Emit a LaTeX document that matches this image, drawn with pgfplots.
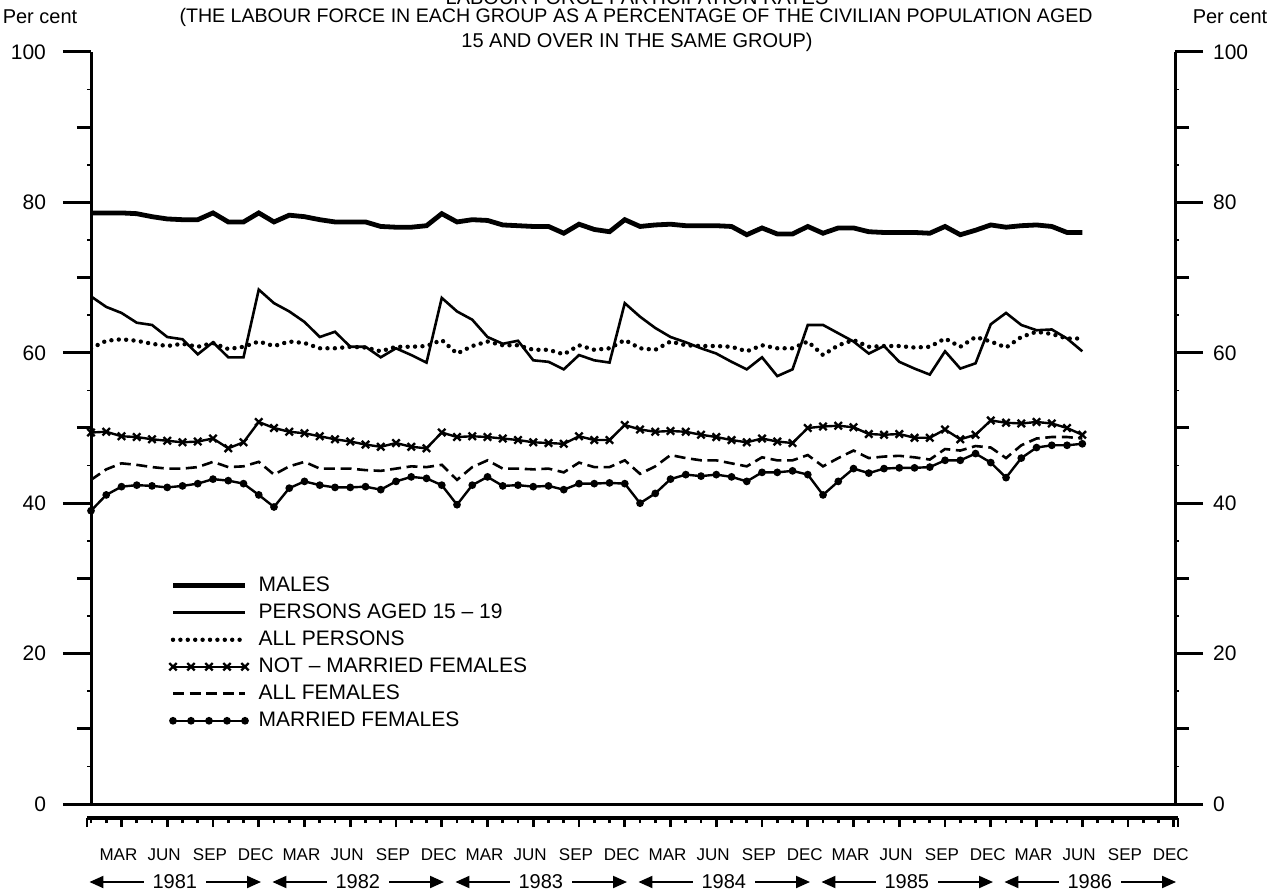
\documentclass[border=0pt]{standalone}
\usepackage{pgfplots}
\pgfplotsset{compat=1.18}
\usepackage{pgfplotstable}
\usepackage{fontspec}
\setmainfont{Liberation Sans}
\usetikzlibrary{arrows.meta}

\newcommand\ttlfont{\fontsize{10}{12}\selectfont}
\newcommand\numfont{\fontsize{10.5}{12}\selectfont}
\newcommand\legfont{\fontsize{10.5}{12}\selectfont}
\newcommand\monfont{\fontsize{8.5}{10}\selectfont}
\newcommand\yrfont{\fontsize{10}{12}\selectfont}

\pgfplotstableread{
m males teen allp notmar allfem mar
0 78.6 67.5 60.6 49.4 43.1 39.0
1 78.6 66.1 61.6 49.5 44.5 41.1
2 78.6 65.3 61.8 48.9 45.3 42.2
3 78.5 64.0 61.6 48.8 45.1 42.4
4 78.1 63.7 61.2 48.5 44.8 42.3
5 77.8 62.1 60.9 48.3 44.6 42.1
6 77.7 61.8 61.2 48.1 44.6 42.3
7 77.7 59.8 60.8 48.2 44.8 42.6
8 78.6 61.4 61.3 48.6 45.5 43.2
9 77.4 59.4 60.5 47.3 44.8 43.0
10 77.4 59.4 60.8 48.1 44.9 42.6
11 78.6 68.4 61.5 50.8 45.5 41.1
12 77.4 66.6 60.9 50.0 43.8 39.5
13 78.3 65.5 61.5 49.5 44.9 42.0
14 78.1 64.1 61.3 49.3 45.5 42.9
15 77.7 62.1 60.6 48.9 44.6 42.4
16 77.4 62.8 60.6 48.5 44.6 42.1
17 77.4 60.8 60.8 48.2 44.6 42.1
18 77.4 60.8 60.7 47.8 44.4 42.2
19 76.8 59.4 60.2 47.5 44.3 41.8
20 76.7 60.6 60.8 48.0 44.6 42.9
21 76.7 59.7 60.8 47.5 44.9 43.5
22 76.9 58.7 60.9 47.3 44.8 43.3
23 78.5 67.3 61.7 49.4 45.1 42.4
24 77.4 65.5 59.9 48.8 43.1 39.8
25 77.7 64.4 60.9 48.9 44.8 42.4
26 77.6 62.1 61.5 48.8 45.7 43.5
27 77.0 61.2 61.0 48.6 44.6 42.3
28 76.9 61.6 61.0 48.4 44.6 42.4
29 76.8 59.0 60.4 48.1 44.5 42.2
30 76.8 58.8 60.4 48.0 44.6 42.3
31 75.9 57.8 59.8 47.9 44.1 41.8
32 77.1 59.7 61.0 48.9 45.4 42.6
33 76.4 59.0 60.4 48.4 44.8 42.6
34 76.1 58.7 60.6 48.4 44.8 42.7
35 77.7 66.6 61.7 50.4 45.7 42.6
36 76.8 64.8 60.6 49.8 43.9 40.0
37 77.0 63.3 60.4 49.5 44.9 41.3
38 77.1 62.1 61.5 49.6 46.4 43.2
39 76.9 61.4 61.0 49.5 46.0 43.8
40 76.9 60.6 60.9 49.1 45.7 43.6
41 76.9 59.9 60.9 48.8 45.7 43.8
42 76.8 58.8 60.8 48.4 45.3 43.5
43 75.7 57.8 60.2 48.1 44.9 42.9
44 76.6 59.4 61.0 48.6 46.1 44.1
45 75.8 56.9 60.6 48.2 45.7 44.1
46 75.8 57.8 60.6 48.0 45.7 44.3
47 76.8 63.7 61.5 50.0 46.4 43.8
48 75.9 63.7 59.7 50.2 44.9 41.1
49 76.6 62.6 61.0 50.3 46.0 42.9
50 76.6 61.5 61.7 50.1 47.0 44.6
51 76.1 59.9 60.8 49.2 46.0 44.0
52 76.0 60.9 60.9 49.1 46.2 44.6
53 76.0 58.8 60.9 49.2 46.3 44.7
54 76.0 57.9 60.7 48.7 46.1 44.7
55 75.9 57.1 60.8 48.7 45.8 44.8
56 76.8 60.2 61.9 49.8 47.2 45.7
57 75.7 57.9 60.8 48.5 47.0 45.7
58 76.3 58.6 62.1 49.1 47.6 46.6
59 77.0 63.8 61.5 51.0 47.4 45.4
60 76.7 65.3 60.7 50.7 46.0 43.4
61 76.9 63.7 62.1 50.6 47.7 46.0
62 77.0 63.0 62.8 50.8 48.6 47.4
63 76.8 63.1 62.5 50.6 48.8 47.7
64 76.0 61.9 61.9 50.0 48.8 47.7
65 76.0 60.2 61.9 49.1 48.6 47.9
}\data

\begin{document}
\begin{tikzpicture}[x=1pt,y=1pt]
\useasboundingbox (0,0) rectangle (634,447.5);

% titles
\node[font=\ttlfont] at (318.5,448.5) {LABOUR FORCE PARTICIPATION RATES};
\node[font=\fontsize{9.8}{12}\selectfont] at (318,439) {(THE LABOUR FORCE IN EACH GROUP AS A PERCENTAGE OF THE CIVILIAN POPULATION AGED};
\node[font=\ttlfont] at (318.5,426.5) {15 AND OVER IN THE SAME GROUP)};
\node[font=\ttlfont] at (20,439) {Per cent};
\node[font=\ttlfont] at (615,439) {Per cent};

% main axis with data, left y axis
\begin{axis}[
  at={(45.5pt,45.5pt)}, anchor=south west,
  scale only axis, width=542pt, height=376pt,
  xmin=0, xmax=71.08, ymin=0, ymax=100,
  axis x line*=bottom, axis y line*=left,
  axis line style={line width=1.5pt},
  xtick=\empty,
  ytick={0,20,40,60,80,100}, yticklabels={0,20,40,60,80,100},
  extra y ticks={10,30,50,70,90}, extra y tick labels={},
  extra y tick style={major tick length=7pt},
  minor ytick={5,15,...,95},
  tick align=outside,
  major tick length=14pt, minor tick length=2pt,
  tick style={line width=1.5pt, black},
  minor tick style={line width=0.8pt},
  yticklabel style={font=\numfont, xshift=-5pt},
  legend style={at={(axis cs:5.11,30.8)}, anchor=north west, draw=none, fill=none,
    font=\legfont, inner sep=0pt, row sep=0.5pt,
    nodes={inner sep=1.5pt, text height=8pt, text depth=2pt}},
  legend cell align=left,
  /tikz/every odd column/.append style={column sep=3.5pt},
  legend image code/.code={\draw[mark repeat=1,#1] plot coordinates {(0pt,0pt) (9pt,0pt) (18pt,0pt) (27pt,0pt) (36pt,0pt)};},
]
\addplot[line width=2.4pt, black] table[x=m,y=males]{\data};
\addlegendentry{MALES}
\addplot[line width=1.3pt, black] table[x=m,y=teen]{\data};
\addlegendentry{PERSONS AGED 15 -- 19}
\addplot[line width=2.2pt, black, line cap=round, dash pattern=on 0pt off 3.7pt] table[x=m,y=allp]{\data};
\addlegendentry{ALL PERSONS}
\addplot[line width=1.2pt, black, mark=x, mark size=2.6pt, mark options={line width=1.2pt, solid}] table[x=m,y=notmar]{\data};
\addlegendentry{NOT -- MARRIED FEMALES}
\addplot[line width=1.3pt, black, dash pattern=on 5.5pt off 2.8pt] table[x=m,y=allfem]{\data};
\addlegendentry{ALL FEMALES}
\addplot[line width=1.2pt, black, mark=*, mark size=1.3pt] table[x=m,y=mar]{\data};
\addlegendentry{MARRIED FEMALES}
\end{axis}

% right y axis
\begin{axis}[
  at={(45.5pt,45.5pt)}, anchor=south west,
  scale only axis, width=542pt, height=376pt,
  xmin=0, xmax=71.08, ymin=0, ymax=100,
  axis x line=none, axis y line*=right,
  axis line style={line width=1.5pt},
  ytick={0,20,40,60,80,100}, yticklabels={0,20,40,60,80,100},
  extra y ticks={10,30,50,70,90}, extra y tick labels={},
  extra y tick style={major tick length=7pt},
  minor ytick={5,15,...,95},
  tick align=outside,
  major tick length=14pt, minor tick length=2pt,
  tick style={line width=1.5pt, black},
  minor tick style={line width=0.8pt},
  yticklabel style={font=\numfont, xshift=1.5pt},
]
\end{axis}

% time axis below
\begin{axis}[
  at={(43.5pt,38.5pt)}, anchor=south west,
  scale only axis, width=545.5pt, height=1pt,
  xmin=-0.26, xmax=71.28, ymin=0, ymax=1,
  axis x line*=bottom, axis y line=none,
  axis line style={line width=1.6pt},
  tick align=outside,
  xtick={2,5,...,71},
  xticklabels={MAR,JUN,SEP,DEC,MAR,JUN,SEP,DEC,MAR,JUN,SEP,DEC,MAR,JUN,SEP,DEC,MAR,JUN,SEP,DEC,MAR,JUN,SEP,DEC},
  minor xtick={0,1,...,71},
  extra x ticks={-0.26,71.28}, extra x tick labels={},
  major tick length=4.5pt, minor tick length=2.5pt,
  tick style={line width=1.3pt, black},
  xticklabel style={font=\monfont, yshift=-7.5pt, xshift=-1.5pt},
  clip=false,
]
\node[font=\yrfont] at ([yshift=-32pt]axis cs:5.5,0) {1981};
\draw[-{Triangle[length=7pt,width=6pt]}, line width=1pt] ([yshift=-32pt]axis cs:3.45,0) -- ([yshift=-32pt]axis cs:-0.1,0);
\draw[-{Triangle[length=7pt,width=6pt]}, line width=1pt] ([yshift=-32pt]axis cs:7.55,0) -- ([yshift=-32pt]axis cs:11.15,0);
\node[font=\yrfont] at ([yshift=-32pt]axis cs:17.5,0) {1982};
\draw[-{Triangle[length=7pt,width=6pt]}, line width=1pt] ([yshift=-32pt]axis cs:15.45,0) -- ([yshift=-32pt]axis cs:11.9,0);
\draw[-{Triangle[length=7pt,width=6pt]}, line width=1pt] ([yshift=-32pt]axis cs:19.55,0) -- ([yshift=-32pt]axis cs:23.15,0);
\node[font=\yrfont] at ([yshift=-32pt]axis cs:29.5,0) {1983};
\draw[-{Triangle[length=7pt,width=6pt]}, line width=1pt] ([yshift=-32pt]axis cs:27.45,0) -- ([yshift=-32pt]axis cs:23.9,0);
\draw[-{Triangle[length=7pt,width=6pt]}, line width=1pt] ([yshift=-32pt]axis cs:31.55,0) -- ([yshift=-32pt]axis cs:35.15,0);
\node[font=\yrfont] at ([yshift=-32pt]axis cs:41.5,0) {1984};
\draw[-{Triangle[length=7pt,width=6pt]}, line width=1pt] ([yshift=-32pt]axis cs:39.45,0) -- ([yshift=-32pt]axis cs:35.9,0);
\draw[-{Triangle[length=7pt,width=6pt]}, line width=1pt] ([yshift=-32pt]axis cs:43.55,0) -- ([yshift=-32pt]axis cs:47.15,0);
\node[font=\yrfont] at ([yshift=-32pt]axis cs:53.5,0) {1985};
\draw[-{Triangle[length=7pt,width=6pt]}, line width=1pt] ([yshift=-32pt]axis cs:51.45,0) -- ([yshift=-32pt]axis cs:47.9,0);
\draw[-{Triangle[length=7pt,width=6pt]}, line width=1pt] ([yshift=-32pt]axis cs:55.55,0) -- ([yshift=-32pt]axis cs:59.15,0);
\node[font=\yrfont] at ([yshift=-32pt]axis cs:65.5,0) {1986};
\draw[-{Triangle[length=7pt,width=6pt]}, line width=1pt] ([yshift=-32pt]axis cs:63.45,0) -- ([yshift=-32pt]axis cs:59.9,0);
\draw[-{Triangle[length=7pt,width=6pt]}, line width=1pt] ([yshift=-32pt]axis cs:67.55,0) -- ([yshift=-32pt]axis cs:71.15,0);
\end{axis}
\end{tikzpicture}
\end{document}
